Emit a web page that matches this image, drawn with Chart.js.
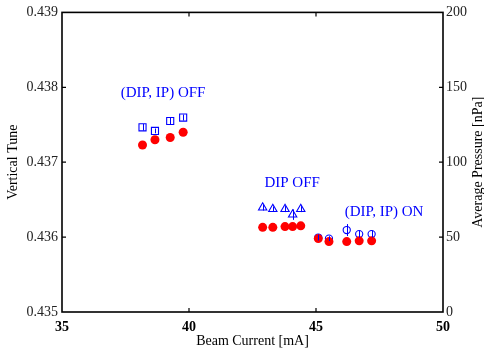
<!DOCTYPE html>
<html>
<head>
<meta charset="utf-8">
<script src="https://cdn.jsdelivr.net/npm/chart.js@4/dist/chart.umd.min.js"></script>
<style>
  html, body { margin: 0; padding: 0; background: #fff; }
  #wrap { width: 484px; height: 349px; }
</style>
</head>
<body>
<div id="wrap"><canvas id="tune-chart"></canvas></div>
<script>
// beam current [mA] per run, grouped by pump configuration
const currentOff = [38.17, 38.66, 39.26, 39.77];
const currentDipOff = [42.90, 43.30, 43.78, 44.08, 44.40];
const currentOn = [45.09, 45.51, 46.21, 46.70, 47.19];

// measured vertical tune
const tuneOff = [0.43723, 0.43730, 0.43733, 0.43740];
const tuneDipOff = [0.43613, 0.43613, 0.43614, 0.43614, 0.43615];
const tuneOn = [0.43598, 0.43594, 0.43594, 0.43595, 0.43595];

// average pressure [nPa] with error
const pressOff = [123.3, 120.9, 127.5, 129.8];
const pressDipOff = [69.7, 68.7, 68.7, 65.0, 68.7];
const pressOn = [49.7, 49.0, 54.7, 52.0, 52.0];
const errOff = [2.2, 1.6, 2.2, 2.0];
const errDipOff = [2.0, 1.8, 2.0, 3.5, 2.0];
const errOn = [2.0, 1.6, 4.0, 2.3, 2.3];

// group labels: text, beam current, tune
const groupLabels = ['(DIP, IP) OFF', 'DIP OFF', '(DIP, IP) ON'];
const groupLabelX = [38.98, 44.06, 47.68];
const groupLabelY = [0.43792, 0.43672, 0.43633];

const xTicks = [35, 40, 45, 50];
const tuneTicks = [0.435, 0.436, 0.437, 0.438, 0.439];
const pressTicks = [0, 50, 100, 150, 200];

const SERIF = '"Liberation Serif", "Times New Roman", serif';
const BLUE = '#0000ff';
const RED = '#ff0000';

const pts = (xs, ys) => xs.map((x, i) => ({ x, y: ys[i] }));

const tuneSeries = [].concat(pts(currentOff, tuneOff), pts(currentDipOff, tuneDipOff), pts(currentOn, tuneOn));

function pressureSet(xs, ys, errs, style, radius) {
    return {
        label: 'pressure',
        data: pts(xs, ys),
        err: errs,
        yAxisID: 'y2',
        showLine: false,
        pointStyle: style,
        pointRadius: radius,
        pointBorderColor: BLUE,
        pointBackgroundColor: 'rgba(255,255,255,0)',
        pointBorderWidth: 1.1,
        order: 2
    };
}

const framePlugin = {
    id: 'frame',
    beforeDatasetsDraw(chart) {
        const { ctx, chartArea: a, scales } = chart;
        ctx.save();
        ctx.strokeStyle = '#000';
        ctx.lineWidth = 1.6;
        ctx.strokeRect(a.left, a.top, a.right - a.left, a.bottom - a.top);
        ctx.lineWidth = 1.2;
        ctx.beginPath();
        const len = 4;
        xTicks.slice(1, -1).forEach(v => {
            const px = scales.x.getPixelForValue(v);
            ctx.moveTo(px, a.bottom); ctx.lineTo(px, a.bottom - len);
            ctx.moveTo(px, a.top); ctx.lineTo(px, a.top + len);
        });
        tuneTicks.slice(1, -1).forEach(v => {
            const py = scales.y.getPixelForValue(v);
            ctx.moveTo(a.left, py); ctx.lineTo(a.left + len, py);
        });
        pressTicks.slice(1, -1).forEach(v => {
            const py = scales.y2.getPixelForValue(v);
            ctx.moveTo(a.right, py); ctx.lineTo(a.right - len, py);
        });
        ctx.stroke();
        ctx.restore();
    },
    afterDatasetsDraw(chart) {
        const { ctx, scales } = chart;
        ctx.save();
        // error bars on the pressure points
        ctx.strokeStyle = BLUE;
        ctx.lineWidth = 1;
        chart.data.datasets.forEach(ds => {
            if (!ds.err) return;
            ds.data.forEach((p, i) => {
                const px = Math.round(scales.x.getPixelForValue(p.x)) + 0.5;
                ctx.beginPath();
                ctx.moveTo(px, scales.y2.getPixelForValue(p.y - ds.err[i]));
                ctx.lineTo(px, scales.y2.getPixelForValue(p.y + ds.err[i]));
                ctx.stroke();
            });
        });
        // group labels
        ctx.fillStyle = BLUE;
        ctx.font = '15px ' + SERIF;
        ctx.textAlign = 'center';
        ctx.textBaseline = 'middle';
        groupLabels.forEach((t, i) => {
            ctx.fillText(t, scales.x.getPixelForValue(groupLabelX[i]), scales.y.getPixelForValue(groupLabelY[i]));
        });
        ctx.restore();
    },
    afterDraw(chart) {
        const { ctx, chartArea: a } = chart;
        const midY = (a.top + a.bottom) / 2;
        ctx.save();
        ctx.fillStyle = '#000';
        ctx.font = '14px ' + SERIF;
        ctx.textAlign = 'center';
        ctx.textBaseline = 'middle';
        ctx.fillText('Beam Current [mA]', (a.left + a.right) / 2, a.bottom + 29);
        ctx.translate(13, midY);
        ctx.rotate(-Math.PI / 2);
        ctx.fillText('Vertical Tune', 0, 0);
        ctx.restore();
        ctx.save();
        ctx.fillStyle = '#000';
        ctx.font = '14px ' + SERIF;
        ctx.textAlign = 'center';
        ctx.textBaseline = 'middle';
        ctx.translate(478, midY);
        ctx.rotate(-Math.PI / 2);
        ctx.fillText('Average Pressure [nPa]', 0, 0);
        ctx.restore();
    }
};

new Chart(document.getElementById('tune-chart'), {
    type: 'scatter',
    data: {
        datasets: [
            {
                label: 'tune',
                data: tuneSeries,
                yAxisID: 'y',
                pointStyle: 'circle',
                pointRadius: 4.5,
                pointBackgroundColor: RED,
                pointBorderWidth: 0,
                order: 1
            },
            pressureSet(currentOff, pressOff, errOff, 'rect', 5),
            pressureSet(currentDipOff, pressDipOff, errDipOff, 'triangle', 4.8),
            pressureSet(currentOn, pressOn, errOn, 'circle', 3.6)
        ]
    },
    options: {
        responsive: true,
        maintainAspectRatio: false,
        animation: false,
        events: [],
        layout: { padding: { top: 12, left: 0, right: 0, bottom: 0 } },
        plugins: {
            legend: { display: false },
            tooltip: { enabled: false }
        },
        scales: {
            x: {
                type: 'linear',
                min: 35,
                max: 50,
                afterFit: s => { s.height = 37; },
                afterBuildTicks: s => { s.ticks = xTicks.map(value => ({ value })); },
                grid: { display: false, drawTicks: false },
                border: { display: false },
                ticks: {
                    color: '#000',
                    padding: 7,
                    maxRotation: 0,
                    font: { family: SERIF, size: 14, weight: 'bold' }
                }
            },
            y: {
                position: 'left',
                min: 0.435,
                max: 0.439,
                afterFit: s => { s.width = 62; },
                afterBuildTicks: s => { s.ticks = tuneTicks.map(value => ({ value })); },
                grid: { display: false, drawTicks: false },
                border: { display: false },
                ticks: {
                    color: '#222',
                    padding: 4,
                    font: { family: SERIF, size: 14 },
                    callback: v => v.toFixed(3)
                }
            },
            y2: {
                position: 'right',
                min: 0,
                max: 200,
                afterFit: s => { s.width = 41; },
                afterBuildTicks: s => { s.ticks = pressTicks.map(value => ({ value })); },
                grid: { display: false, drawTicks: false },
                border: { display: false },
                ticks: {
                    color: '#222',
                    padding: 3,
                    font: { family: SERIF, size: 14 }
                }
            }
        }
    },
    plugins: [framePlugin]
});
</script>
</body>
</html>
